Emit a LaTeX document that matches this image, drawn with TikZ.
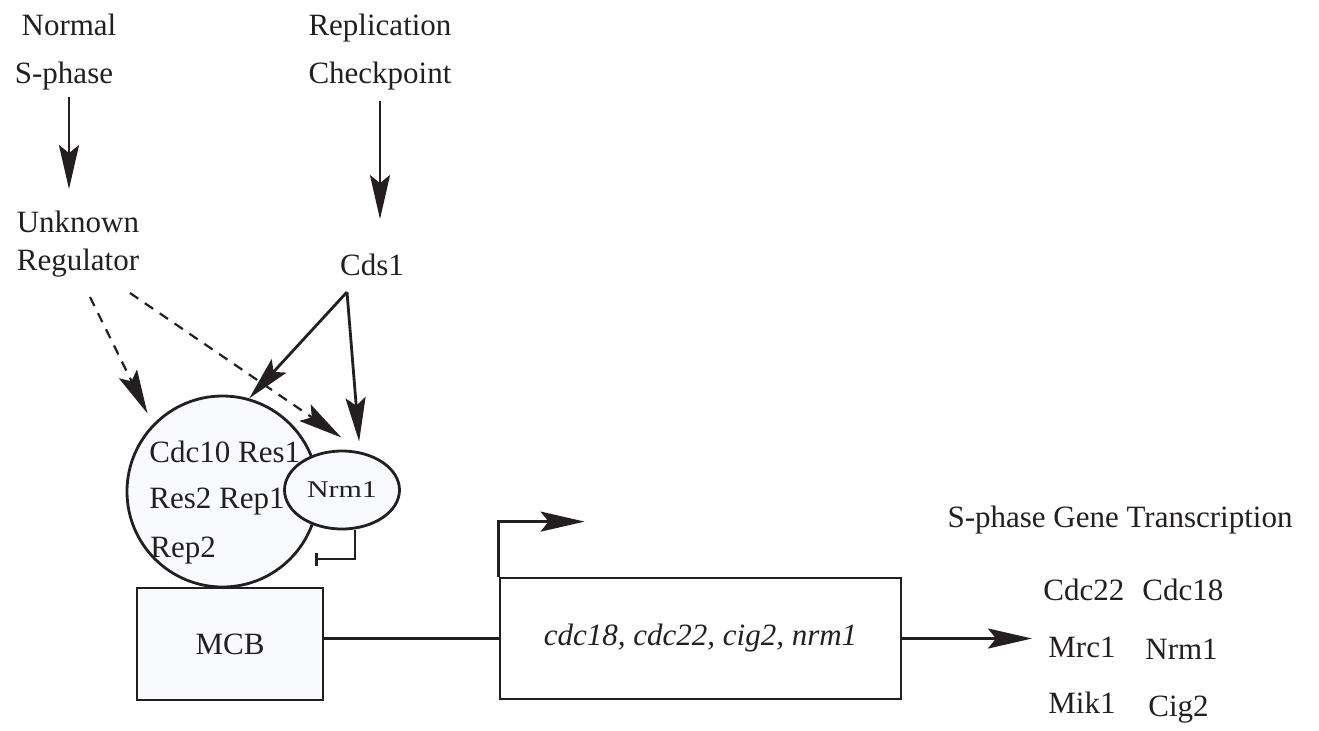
\documentclass[tikz,border=0pt]{standalone}
\usepackage{fontspec}
\setmainfont{Liberation Serif}
\newfontfamily\anchafont[FakeStretch=1.25]{Liberation Serif}
\usetikzlibrary{arrows.meta,shapes.geometric,positioning}
\definecolor{tinta}{HTML}{231F20}
\definecolor{celeste}{HTML}{F8FAFE}
\tikzset{
  etiqueta/.style={inner sep=0pt,text=tinta,font=\fontsize{15.5}{18}\selectfont},
  caja/.style={draw=tinta,line width=1.4pt,inner sep=0pt,text=tinta,font=\fontsize{15.5}{18}\selectfont},
  flecha/.style={draw=tinta,line width=1.4pt,-{Stealth[length=22pt,width=10pt,inset=4pt]}},
  punteada/.style={flecha,line width=1.1pt,dash pattern=on 5pt off 4pt},
  inhibe/.style={draw=tinta,line width=1.3pt,-{Bar[width=6.5pt,line width=1.4pt]}}
}
\begin{document}
\begin{tikzpicture}[x=0.5pt,y=-0.5pt]
\useasboundingbox (0,0) rectangle (1319,730);
\node[etiqueta,anchor=base] (normal) at (69,35) {Normal};
\node[etiqueta,anchor=base] (sphase) at (64,83) {S-phase};
\node[etiqueta,anchor=base] (unknown) at (78,232) {Unknown};
\node[etiqueta,anchor=base] (regulator) at (78,270) {Regulator};
\node[etiqueta,anchor=base] (replication) at (380,35) {Replication};
\node[etiqueta,anchor=base] (checkpoint) at (380,83) {Checkpoint};
\node[etiqueta,anchor=base] (cds1) at (372,275) {Cds1};
\node[caja,circle,fill=celeste,minimum size=95.5pt] (complex) at (222.5,491.5) {};
\node[caja,ellipse,fill=celeste,minimum width=57.5pt,minimum height=39pt,font=\anchafont\fontsize{12}{14}\selectfont] (nrm) at (342,490) {Nrm1};
\node[etiqueta,anchor=base west] (cdc10) at (149,462) {Cdc10 Res1};
\node[etiqueta,anchor=base west] (res2) at (149,508) {Res2 Rep1};
\node[etiqueta,anchor=base west] (rep2) at (150,557) {Rep2};
\node[caja,fill=celeste,minimum width=93pt,minimum height=56pt] (mcb) at (230,644) {MCB};
\node[caja,fill=white,minimum width=200.5pt,minimum height=60.5pt,font=\itshape\fontsize{15.5}{18}\selectfont] (genes) at (700.5,638.5) {cdc18, cdc22, cig2, nrm1};
\node[etiqueta,anchor=base] (transcription) at (1120,527) {S-phase Gene Transcription};
\node[etiqueta,anchor=base west] (cdc22) at (1043,600) {Cdc22};
\node[etiqueta,anchor=base west] (cdc18) at (1142,600) {Cdc18};
\node[etiqueta,anchor=base west] (mrc1) at (1048,657) {Mrc1};
\node[etiqueta,anchor=base west] (nrm1) at (1145,659) {Nrm1};
\node[etiqueta,anchor=base west] (mik1) at (1048,713) {Mik1};
\node[etiqueta,anchor=base west] (cig2) at (1148,716) {Cig2};
\coordinate (cdsfork) at (347,292);
\coordinate (regfork1) at (90,297);
\coordinate (regfork2) at (130,293);
\coordinate (inhend) at (315,559);
\coordinate (salida) at (1032,638.5);
\draw[flecha,shorten <=3.5pt,shorten >=10.5pt] (sphase.south -| normal) -- (unknown.north -| normal);
\draw[flecha,shorten <=5.5pt,shorten >=17pt] (checkpoint.south) -- (cds1.north -| checkpoint);
\draw[flecha] (cdsfork) -- (complex.74);
\draw[flecha,shorten >=5pt] (cdsfork) -- (nrm.65);
\draw[punteada,shorten >=6pt] (regfork1) -- (complex.136);
\draw[punteada,shorten >=13pt] (regfork2) -- (nrm.61);
\draw[inhibe] ([xshift=6.5pt]nrm.south) |- (inhend);
\draw[draw=tinta,line width=1.4pt] (mcb.east |- genes.west) -- (genes.west);
\draw[flecha] (genes.north west) -- ++(0,-55) -- ++(86,0);
\draw[flecha] (genes.east) -- (salida);
\end{tikzpicture}
\end{document}
